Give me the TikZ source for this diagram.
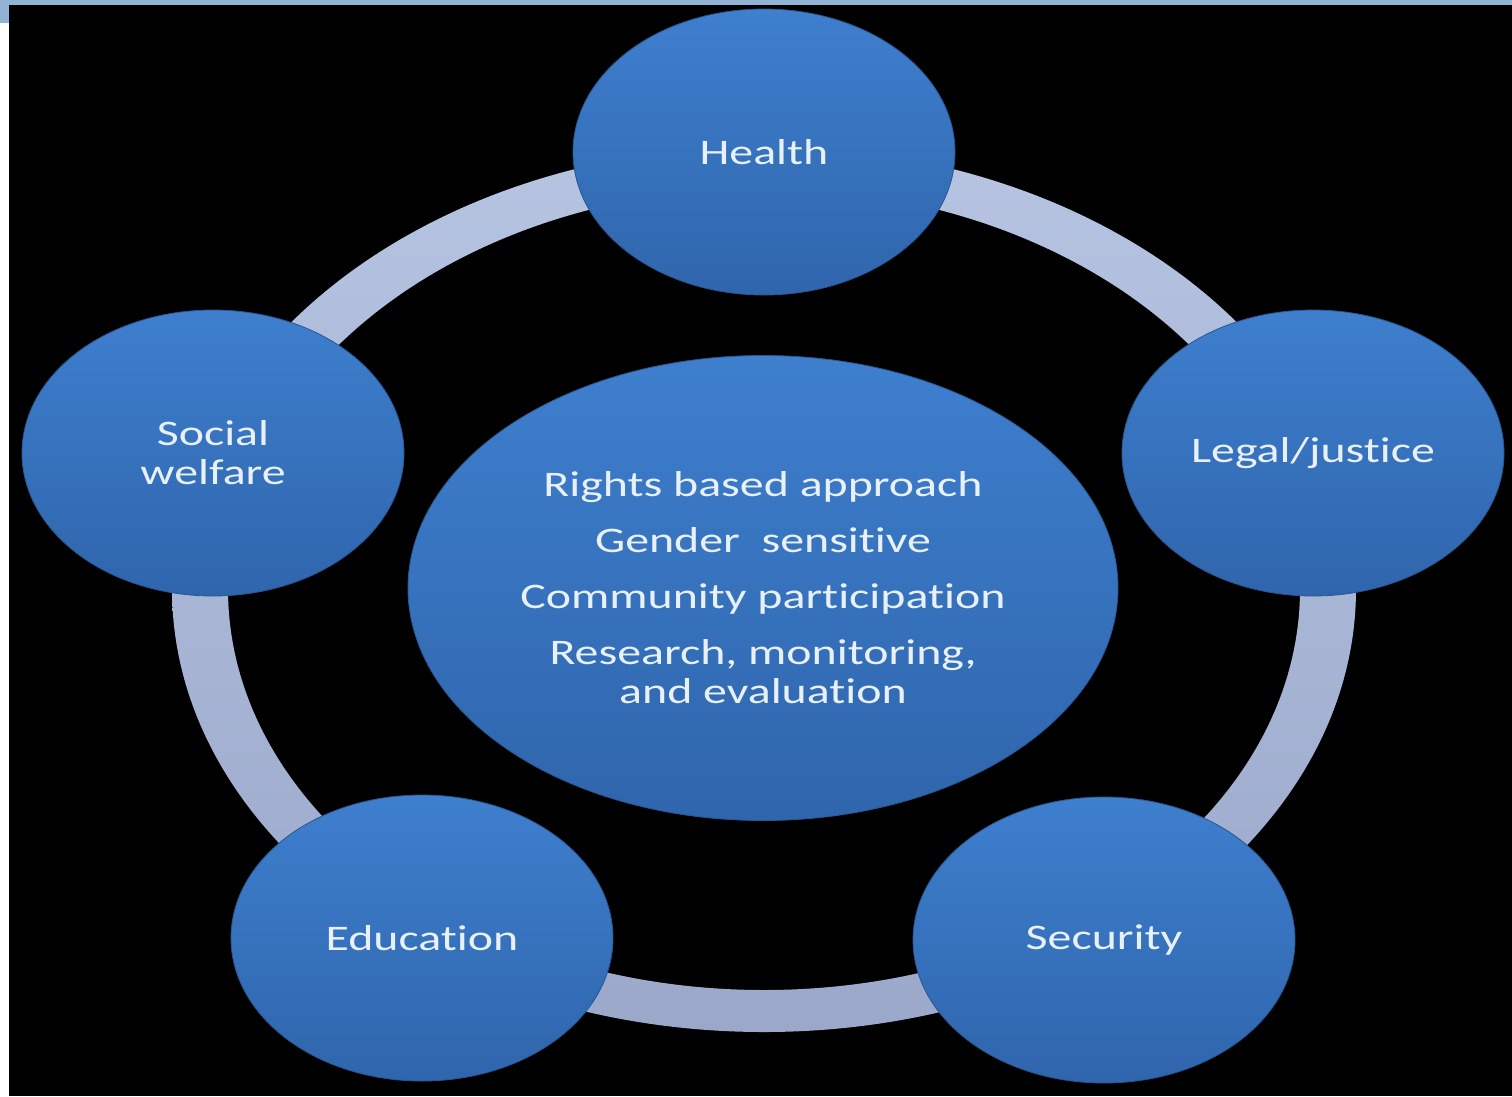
\documentclass[tikz,border=0pt]{standalone}
\usepackage{fontspec}
\setmainfont{Carlito}[FakeStretch=1.33, Ligatures=NoCommon]
\usetikzlibrary{shapes.geometric}
\definecolor{bgblue}{RGB}{147,179,212}
\definecolor{ctop}{RGB}{62,127,206}
\definecolor{cbot}{RGB}{47,101,172}
\definecolor{ringtop}{RGB}{182,196,226}
\definecolor{ringbot}{RGB}{155,168,202}
\definecolor{txt}{RGB}{232,240,250}
\begin{document}
\begin{tikzpicture}[x=1pt,y=-1pt,
  bubble/.style={ellipse, inner sep=0pt, top color=ctop, bottom color=cbot,
    draw=cbot!85!black, line width=0.8pt, text=txt, align=center,
    font=\fontsize{36}{39}\selectfont},
  sat/.style={bubble, minimum width=382pt, minimum height=286pt}]
\useasboundingbox (0,0) rectangle (1512,1096);
\fill[white] (0,0) rectangle (1512,1096);
\fill[bgblue] (0,0) rectangle (1512,5);
\fill[bgblue] (0,0) rectangle (9,23);
\fill[black] (9,5) rectangle (1512,1096);
\coordinate (o) at (764,589);
\shade[even odd rule, top color=ringtop, bottom color=ringbot]
  (o) ellipse [x radius=592pt, y radius=443pt]
  (o) ellipse [x radius=536pt, y radius=401pt];
\node[bubble, minimum width=710pt, minimum height=465pt] (c) at (763,588)
  {Rights based approach\\[17pt] Gender\ \ sensitive\\[17pt] Community participation\\[17pt] Research, monitoring,\\ and evaluation};
\node[sat] (health) at (764,152) {Health};
\node[sat] (legal) at (1313,453) {Legal/justice};
\node[sat] (security) at (1104,940) {Security};
\node[sat] (education) at (422,938) {Education};
\node[sat] (social) at (213,453) {Social\\welfare};
\end{tikzpicture}
\end{document}
